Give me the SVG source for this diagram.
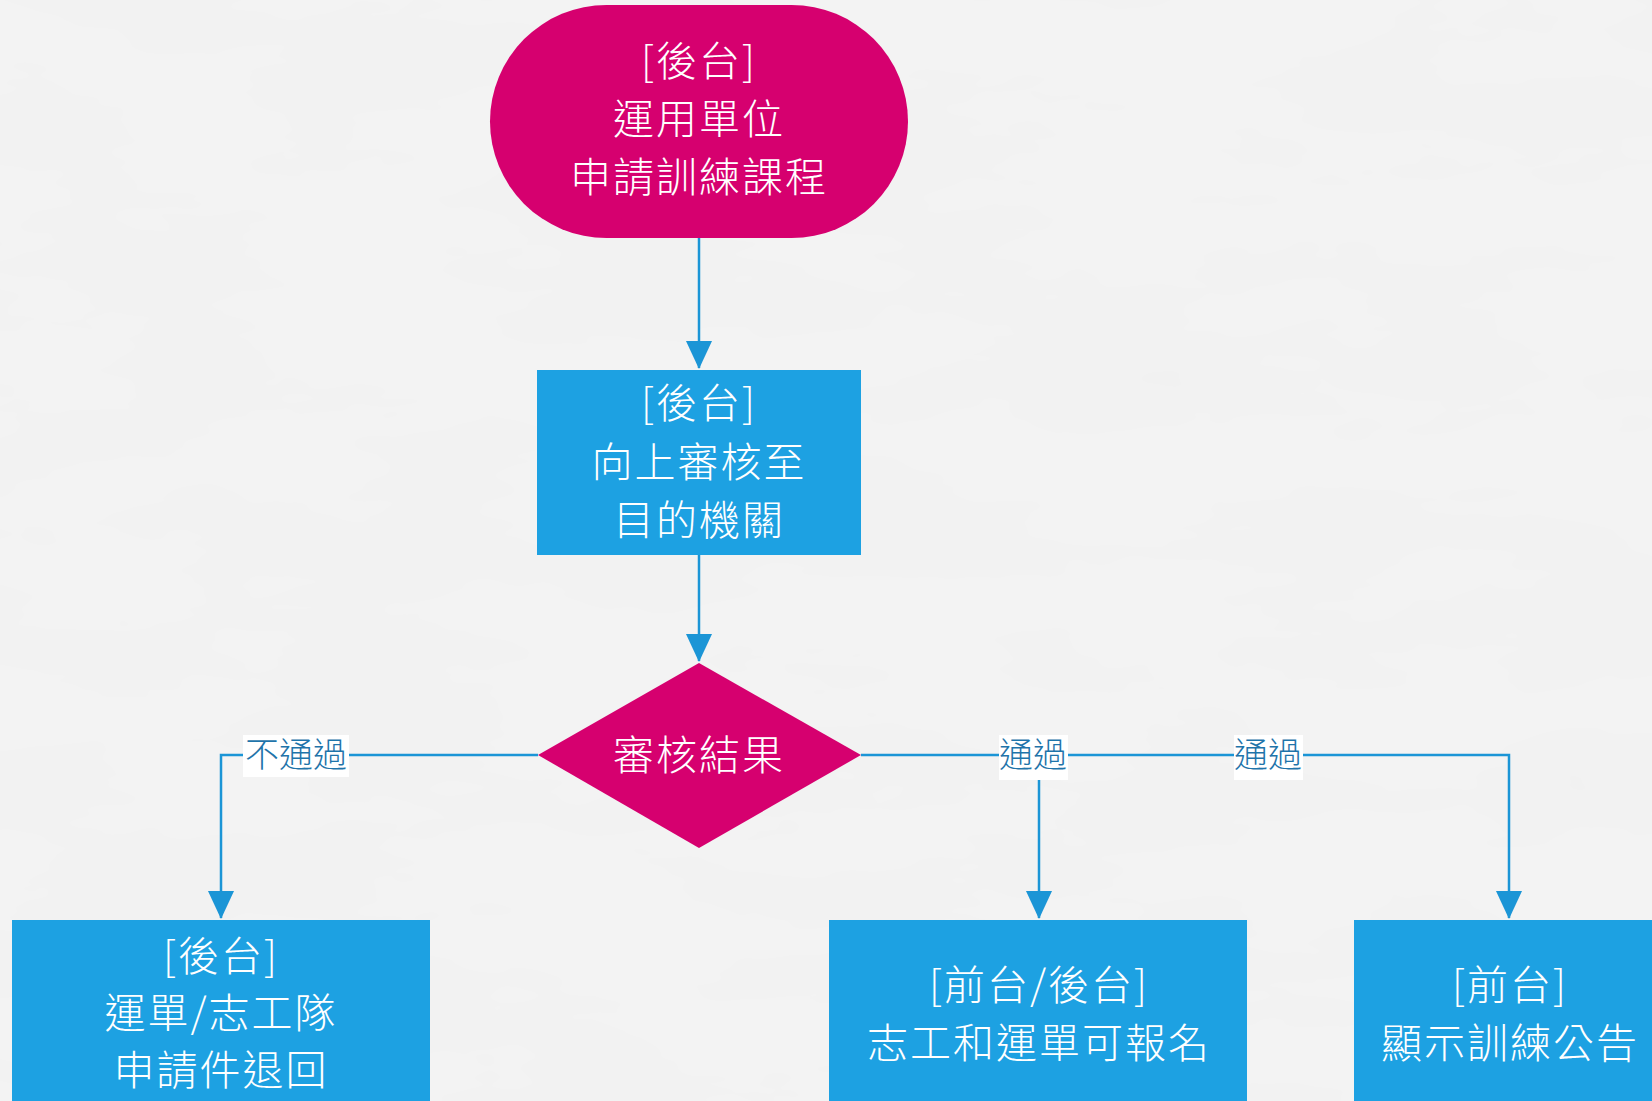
<svg xmlns="http://www.w3.org/2000/svg" width="1652" height="1101" viewBox="0 0 1652 1101">
  <defs>
    <style>
      .pink { fill: #D6006F; }
      .blue { fill: #1DA1E2; }
      .t { font-family: "Noto Sans CJK TC", "Noto Sans CJK SC", "Liberation Sans", sans-serif; font-weight: 300; fill: #FFFFFF; text-anchor: middle; font-size: 41px; letter-spacing: 2px; }
      .conn { fill: none; stroke: #1B95D6; stroke-width: 2.5; }
      .lbl { font-family: "Noto Sans CJK TC", "Noto Sans CJK SC", "Liberation Sans", sans-serif; font-weight: 300; fill: #1F74AA; text-anchor: middle; font-size: 34px; }
      .lblbg { fill: #FFFFFF; }
    </style>
    <marker id="arr" viewBox="0 0 28 26" refX="27" refY="13" markerWidth="28" markerHeight="26" markerUnits="userSpaceOnUse" orient="auto">
      <path d="M0,0 L28,13 L0,26 Z" fill="#1B95D6"/>
    </marker>
    <filter id="marble" x="0" y="0" width="100%" height="100%">
      <feTurbulence type="fractalNoise" baseFrequency="0.004 0.012" numOctaves="4" seed="7" result="n"/>
      <feColorMatrix in="n" type="matrix" values="0 0 0 0 0.86  0 0 0 0 0.86  0 0 0 0 0.86  0 0 0 0.6 -0.2" result="c"/>
      <feComposite in="c" in2="SourceGraphic" operator="over"/>
    </filter>
  </defs>
  <rect x="0" y="0" width="1652" height="1101" fill="#F3F3F3" filter="url(#marble)"/>

  <g id="connectors">
    <path class="conn" d="M699,238 L699,368" marker-end="url(#arr)"/>
    <path class="conn" d="M699,555 L699,661" marker-end="url(#arr)"/>
    <path class="conn" d="M538,755 L221,755 L221,918" marker-end="url(#arr)"/>
    <path class="conn" d="M861,755 L1509,755 L1509,918" marker-end="url(#arr)"/>
    <path class="conn" d="M1039,755 L1039,918" marker-end="url(#arr)"/>
    <g id="label-fail">
      <rect class="lblbg" x="243" y="735" width="106" height="42"/>
      <text class="lbl" x="296" y="767">不通過</text>
    </g>
    <g id="label-pass1">
      <rect class="lblbg" x="999" y="735" width="69" height="45"/>
      <text class="lbl" x="1033" y="767">通過</text>
    </g>
    <g id="label-pass2">
      <rect class="lblbg" x="1234" y="735" width="69" height="45"/>
      <text class="lbl" x="1268" y="767">通過</text>
    </g>
  </g>

  <g id="start">
    <rect class="pink" x="490" y="5" width="418" height="233" rx="116.5" ry="116.5"/>
    <text class="t" x="699" y="76">[後台]</text>
    <text class="t" x="699" y="134">運用單位</text>
    <text class="t" x="699" y="192">申請訓練課程</text>
  </g>

  <g id="review">
    <rect class="blue" x="537" y="370" width="324" height="185"/>
    <text class="t" x="699" y="418">[後台]</text>
    <text class="t" x="699" y="477">向上審核至</text>
    <text class="t" x="699" y="535">目的機關</text>
  </g>

  <g id="decision">
    <polygon class="pink" points="699,663 861,755 699,848 538,755"/>
    <text class="t" x="699" y="770">審核結果</text>
  </g>

  <g id="rejected">
    <rect class="blue" x="12" y="920" width="418" height="200"/>
    <text class="t" x="221" y="971">[後台]</text>
    <text class="t" x="221" y="1028">運單/志工隊</text>
    <text class="t" x="221" y="1085">申請件退回</text>
  </g>

  <g id="signup">
    <rect class="blue" x="829" y="920" width="418" height="200"/>
    <text class="t" x="1039" y="1000">[前台/後台]</text>
    <text class="t" x="1039" y="1058">志工和運單可報名</text>
  </g>

  <g id="announce">
    <rect class="blue" x="1354" y="920" width="418" height="200"/>
    <text class="t" x="1510" y="1000">[前台]</text>
    <text class="t" x="1510" y="1058">顯示訓練公告</text>
  </g>
</svg>
